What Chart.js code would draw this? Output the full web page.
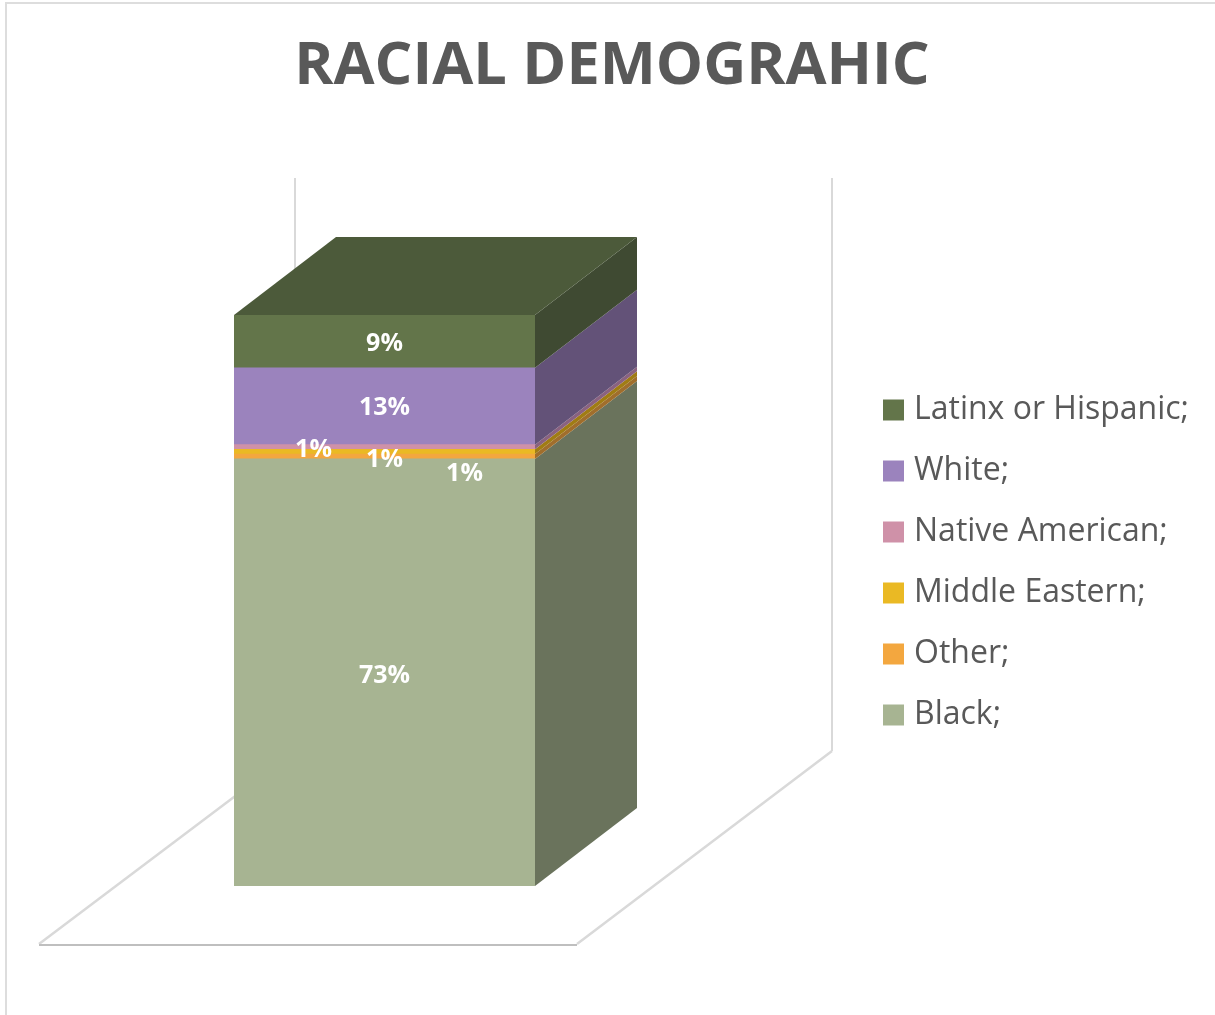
<!DOCTYPE html>
<html>
<head>
<meta charset="utf-8">
<title>Racial Demographic</title>
<script src="https://cdn.jsdelivr.net/npm/chart.js@4"></script>
<style>
  html, body { margin: 0; padding: 0; background: #fff; }
  canvas { display: block; }
</style>
</head>
<body>
<canvas id="myChart" width="1215" height="1015"></canvas>
<script>
  const categories = [''];
  const seriesNames = ['Black;', 'Other;', 'Middle Eastern;', 'Native American;', 'White;', 'Latinx or Hispanic;'];
  const seriesValues = [73.3, 0.85, 0.8, 0.8, 13.2, 9.05];
  const frontColors = ['#A7B492', '#F3A73F', '#EAB924', '#CF91A8', '#9B83BD', '#63754A'];
  const sideColors = ['#6A735C', '#A06E2C', '#A07C14', '#8A6280', '#635278', '#3F4A32'];
  const topColor = '#4C5A3A';
  // data labels get pushed around to avoid overlap in the thin bands
  const labelShiftX = [0, 80, 0, -71, 0, 0];
  const labelShiftY = [3.8, 17.8, 8.6, 3, 2, 2.8];

  const titleText = 'RACIAL DEMOGRAHIC';
  const textColor = '#595959';
  const wallColor = '#D9D9D9';
  const floorFrontColor = '#BFBFBF';
  const depthX = 102;
  const depthY = 78;
  const legendFontSize = 32;
  const legendGap = 29;

  const total = seriesValues.reduce((a, b) => a + b, 0);

  const line = (ctx, points, color, width) => {
    ctx.beginPath();
    ctx.moveTo(points[0][0], points[0][1]);
    for (let p of points.slice(1)) {
      ctx.lineTo(p[0], p[1]);
    }
    ctx.strokeStyle = color;
    ctx.lineWidth = width;
    ctx.stroke();
  };

  const poly = (ctx, points, color) => {
    ctx.beginPath();
    ctx.moveTo(points[0][0], points[0][1]);
    for (let p of points.slice(1)) {
      ctx.lineTo(p[0], p[1]);
    }
    ctx.closePath();
    ctx.fillStyle = color;
    ctx.fill();
  };

  // moves title and legend away from where the layout put them
  const placeBoxes = {
    id: 'placeBoxes',
    afterUpdate(chart) {
      chart.titleBlock.left = 0;
      chart.titleBlock.right = 1224;
      const legend = chart.legend;
      legend.left = 889 - legendGap;
      legend.right = 1215;
      legend.top = 410 - legendFontSize / 2 - legendGap;
      legend.bottom = 1015;
    }
  };

  // frame, floor and back walls, in the same projection as the bar
  const room = {
    id: 'room',
    beforeDraw(chart) {
      const ctx = chart.ctx;
      const y0 = chart.scales.y.getPixelForValue(0);
      const wallTop = chart.scales.y.getPixelForValue(total) - 137;
      const floorFront = y0 + 58;
      const floorBack = y0 - 135;
      ctx.save();
      line(ctx, [[6, 1015], [6, 3], [1215, 3]], '#DDDDDD', 2);
      line(ctx, [[295, wallTop], [295, floorBack - 480]], wallColor, 2);
      line(ctx, [[832, wallTop], [832, floorBack]], wallColor, 2);
      line(ctx, [[832, floorBack], [577, floorFront]], wallColor, 2.5);
      line(ctx, [[295, floorBack], [39, floorFront]], wallColor, 2.5);
      line(ctx, [[39, floorFront + 1], [577, floorFront + 1]], floorFrontColor, 2);
      ctx.restore();
    },
    beforeDatasetsDraw(chart) {
      const ctx = chart.ctx;
      const yScale = chart.scales.y;
      const right = chart.getDatasetMeta(0).data[0].x + chart.getDatasetMeta(0).data[0].width / 2;
      const left = right - chart.getDatasetMeta(0).data[0].width;
      let sum = 0;
      ctx.save();
      seriesValues.forEach((value, i) => {
        const yBottom = yScale.getPixelForValue(sum);
        sum += value;
        const yTop = yScale.getPixelForValue(sum);
        poly(ctx, [
          [right, yBottom], [right + depthX, yBottom - depthY],
          [right + depthX, yTop - depthY], [right, yTop]
        ], sideColors[i]);
      });
      const yEnd = yScale.getPixelForValue(sum);
      poly(ctx, [
        [left, yEnd], [left + depthX, yEnd - depthY],
        [right + depthX, yEnd - depthY], [right, yEnd]
      ], topColor);
      ctx.restore();
    }
  };

  const percentLabels = {
    id: 'percentLabels',
    afterDatasetsDraw(chart) {
      const ctx = chart.ctx;
      ctx.save();
      ctx.fillStyle = '#FFFFFF';
      ctx.font = 'bold 25px "Open Sans"';
      ctx.textAlign = 'center';
      ctx.textBaseline = 'middle';
      seriesValues.forEach((value, i) => {
        const bar = chart.getDatasetMeta(i).data[0];
        const yMid = (bar.y + bar.base) / 2;
        ctx.fillText(Math.round(value) + '%', bar.x + labelShiftX[i], yMid + labelShiftY[i]);
      });
      ctx.restore();
    }
  };

  var ctx = document.getElementById('myChart').getContext('2d');

  var chart = new Chart(ctx, {
    type: 'bar',
    data: {
      labels: categories,
      datasets: seriesNames.map((name, i) => ({
        label: name,
        data: [seriesValues[i]],
        backgroundColor: frontColors[i],
        borderWidth: 0,
        barPercentage: 1,
        categoryPercentage: 1,
      })),
    },
    options: {
      responsive: false,
      animation: false,
      layout: { padding: { left: 234, right: 680, top: 0, bottom: 129 } },
      scales: {
        x: { display: false, stacked: true },
        y: { display: false, stacked: true, min: 0, max: total },
      },
      plugins: {
        tooltip: { enabled: false },
        title: {
          display: true,
          text: titleText,
          color: textColor,
          font: { family: '"Open Sans"', size: 59.5, weight: 'bold', lineHeight: 1.2 },
          padding: { top: 31.3, bottom: 212.3 },
        },
        legend: {
          position: 'chartArea',
          align: 'start',
          reverse: true,
          labels: {
            color: textColor,
            font: { family: '"Open Sans"', size: legendFontSize },
            boxWidth: 9,
            boxHeight: 9,
            padding: legendGap,
            generateLabels(c) {
              // thick stroke grows the swatch without moving the text further out
              return Chart.defaults.plugins.legend.labels.generateLabels(c).map((item) => {
                item.lineWidth = 12;
                item.strokeStyle = item.fillStyle;
                return item;
              });
            },
          },
        },
      },
    },
    plugins: [placeBoxes, room, percentLabels],
  });
</script>
</body>
</html>
